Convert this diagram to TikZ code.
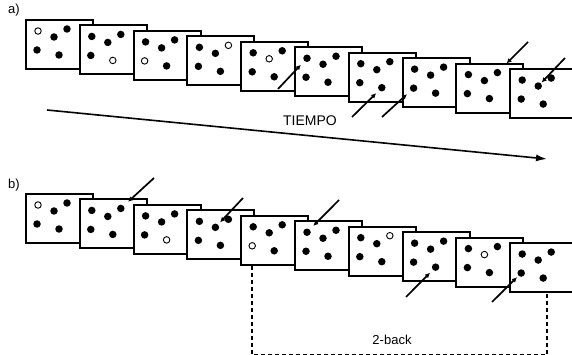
\documentclass[tikz,border=0pt]{standalone}
\usepackage{fontspec}
\setmainfont{Liberation Sans}
\usepackage{tikz}
\usetikzlibrary{arrows.meta}
\tikzset{
    card-box/.style = {draw=black, fill=white, line width=2pt, rectangle, minimum width=67pt, minimum height=49pt, inner sep=0pt, anchor=north west},
    full-dot/.style = {circle, fill=black, inner sep=0pt, minimum size=7.5pt},
    empty-dot/.style = {circle, draw=black, fill=white, line width=0.9pt, inner sep=0pt, minimum size=6.5pt},
    pointer/.style = {-{Latex[length=5pt,width=5pt]}, line width=1.7pt},
    time-arrow/.style = {-{Latex[length=11pt,width=7pt]}, line width=1.6pt},
    label-text/.style = {font=\fontsize{13}{15}\selectfont, inner sep=0pt},
    dash-line/.style = {line width=1.6pt, dash pattern=on 4pt off 3pt},
}

\begin{document}
\begin{tikzpicture}[x=1pt, y=-1pt]
\useasboundingbox (0,0) rectangle (572,355);
\clip (0,0) rectangle (572,355);

% a) cards, one dot shown white
\foreach \i/\open in {1/A,2/E,3/D,4/C,5/B,6/x,7/x,8/x,9/x,10/x} {
    \pgfmathsetmacro{\cx}{25+53.8*(\i-1)}
    \pgfmathsetmacro{\cy}{19+5.45*(\i-1)}
    \begin{scope}[shift={(\cx,\cy)}]
    \node[card-box] (a\i) at (0,0) {};
    \foreach \d/\dx/\dy in {A/13/12,B/29/18,C/42/10,D/12/31,E/34/36} {
        \ifx\d\open \def\dotstyle{empty-dot}\else\def\dotstyle{full-dot}\fi
        \node[\dotstyle] (a\i-\d) at (\dx,\dy) {};
    }
    \end{scope}
}

% b) cards
\foreach \i/\open in {1/A,2/x,3/E,4/x,5/D,6/x,7/C,8/x,9/B,10/x} {
    \pgfmathsetmacro{\cx}{25+53.8*(\i-1)}
    \pgfmathsetmacro{\cy}{193+5.45*(\i-1)}
    \begin{scope}[shift={(\cx,\cy)}]
    \node[card-box] (b\i) at (0,0) {};
    \foreach \d/\dx/\dy in {A/13/12,B/29/18,C/42/10,D/12/31,E/34/36} {
        \ifx\d\open \def\dotstyle{empty-dot}\else\def\dotstyle{full-dot}\fi
        \node[\dotstyle] (b\i-\d) at (\dx,\dy) {};
    }
    \end{scope}
}

% pointers
\coordinate (a6-from) at (278,89);
\coordinate (a7-from) at (352,117);
\coordinate (a8-from) at (382,117);
\coordinate (a9-from) at (528,42);
\coordinate (a10-from) at (565,58);
\coordinate (b2-from) at (154,178);
\coordinate (b4-from) at (243,198);
\coordinate (b6-from) at (339,200);
\coordinate (b8-from) at (406,297);
\coordinate (b10-from) at (492,302);
\foreach \c/\d/\gap in {a6/A/5,a7/E/4,a8/D/5,a9/C/9,a10/B/1,b2/C/6,b4/B/3,b6/A/5,b8/E/4,b10/D/2}
    \draw[pointer, shorten >=\gap pt] (\c-from) -- (\c-\d);

% time axis
\coordinate (time-start) at (47,110);
\coordinate (time-end) at (547,159);
\draw[time-arrow] (time-start) -- (time-end);
\node[label-text, font=\fontsize{14}{16}\selectfont] (time-label) at (310,121) {TIEMPO};

% 2-back bracket
\draw[dash-line] ([xshift=12pt]b5.south west) -- ++(0,89) -| ([xshift=38pt]b10.south west);
\node[label-text] (back-label) at (392,340) {2-back};

\node[label-text] (part-a) at (14,10) {a)};
\node[label-text] (part-b) at (14,185) {b)};
\end{tikzpicture}
\end{document}
